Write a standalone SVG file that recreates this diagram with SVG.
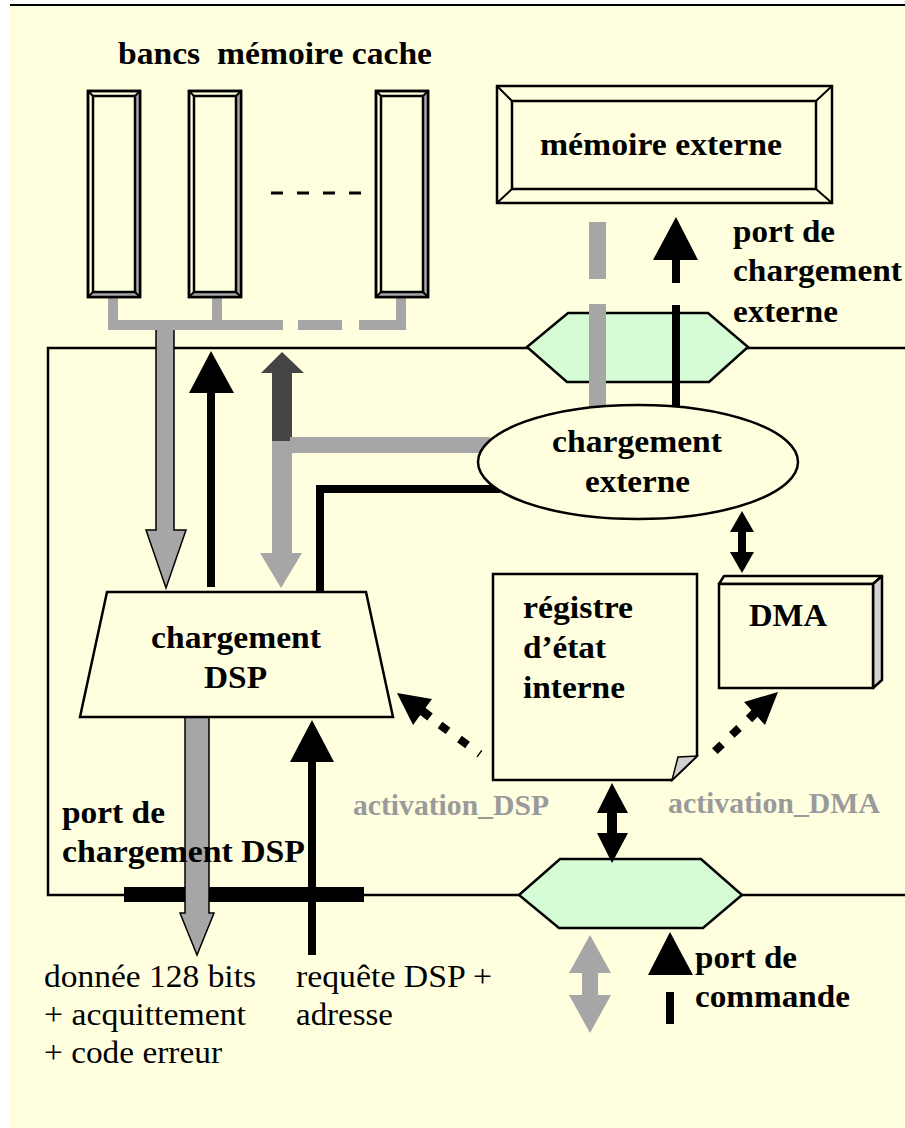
<svg xmlns="http://www.w3.org/2000/svg" xmlns:xlink="http://www.w3.org/1999/xlink" width="905" height="1128" viewBox="0 0 905 1128">
  <style>
    .bold { font-family: "Liberation Serif", "Times New Roman", serif; font-weight: bold; font-size: 32px; fill: #000; }
    .reg { font-family: "Liberation Serif", "Times New Roman", serif; font-size: 32px; fill: #000; }
    .act { font-family: "Liberation Serif", "Times New Roman", serif; font-weight: bold; font-size: 30px; fill: #9a9a9a; }
    .box { fill: #FFFFE0; stroke: #000; stroke-width: 2.5; }
    .port { fill: #D5FCD5; stroke: #000; stroke-width: 2.5; }
    .grey { fill: #A6A6A6; }
    .blk { fill: #000; }
    .dark { fill: #444; }
    .thin { stroke: #000; stroke-width: 2; fill: none; }
  </style>
  <defs>
    <!-- bevelled memory bank, 52 x 206 -->
    <g id="bank">
      <rect x="0" y="0" width="52" height="206" fill="#FFFFE0" stroke="#000" stroke-width="2.5"/>
      <polygon points="47,5 52,0 52,206 47,201" fill="#A6A6A6"/>
      <polygon points="5,201 47,201 52,206 0,206" fill="#A6A6A6"/>
      <rect x="5" y="5" width="42" height="196" fill="none" stroke="#000" stroke-width="2.5"/>
      <rect x="0" y="0" width="52" height="206" fill="none" stroke="#000" stroke-width="2.5"/>
      <path d="M0,0 L5,5 M52,0 L47,5 M0,206 L5,201 M52,206 L47,201" stroke="#000" stroke-width="2"/>
    </g>
  </defs>

  <!-- page -->
  <rect x="0" y="0" width="905" height="1128" fill="#FFFFFF"/>
  <rect x="10" y="5" width="895" height="1123" fill="#FFFFE0"/>
  <line x1="10" y1="5" x2="905" y2="5" stroke="#000" stroke-width="2"/>

  <!-- chip boundary -->
  <g id="chip">
    <path d="M905,348 H48 V895 H905" fill="none" stroke="#000" stroke-width="2.5"/>
  </g>

  <!-- ports on the chip boundary -->
  <g id="port-externe">
    <polygon class="port" points="527,347 568,313 708,313 748,347 709,382 567,382"/>
  </g>
  <g id="port-commande">
    <polygon class="port" points="519,895 560,859 701,859 742,895 703,928 559,928"/>
  </g>

  <!-- DSP load port bar -->
  <g id="port-dsp">
    <rect x="124" y="887" width="240" height="15" fill="#000"/>
  </g>

  <g id="connectors">
    <!-- cache bus -->
    <g class="grey">
      <rect x="108" y="297" width="10" height="33"/>
      <rect x="212" y="297" width="10" height="33"/>
      <rect x="396" y="297" width="10" height="33"/>
      <rect x="108" y="320" width="175" height="10"/>
      <rect x="298" y="320" width="44" height="10"/>
      <rect x="359" y="320" width="47" height="10"/>
    </g>
    <!-- banks dotted continuation -->
    <line x1="271" y1="193" x2="364" y2="193" stroke="#000" stroke-width="3" stroke-dasharray="12 14"/>

    <!-- bus to DSP load (down) -->
    <path d="M156,330 V530 H146 L166,588 L186,530 H174 V330" fill="#A6A6A6" stroke="#000" stroke-width="1.5"/>
    <!-- DSP load to cache (up) -->
    <rect class="blk" x="207" y="392" width="8" height="195"/>
    <polygon class="blk" points="211,351 189,393 234,393"/>
    <!-- two-way link cache / external load -->
    <polygon class="dark" points="282,352 261,373 304,373"/>
    <rect class="dark" x="272" y="372" width="20" height="70"/>
    <rect class="grey" x="272" y="441" width="20" height="113"/>
    <polygon class="grey" points="260,553 302,553 281,588"/>
    <rect class="grey" x="290" y="437" width="200" height="16"/>
    <!-- DSP load to external load -->
    <path d="M320,592 V489 H500" fill="none" stroke="#000" stroke-width="8"/>

    <!-- external memory links -->
    <rect class="grey" x="589" y="222" width="17" height="57"/>
    <rect class="grey" x="589" y="304" width="17" height="106"/>
    <polygon class="blk" points="676,217 653,260 698,260"/>
    <rect class="blk" x="672" y="259" width="8" height="24"/>
    <rect class="blk" x="672" y="305" width="8" height="105"/>

    <!-- external load <-> DMA -->
    <polygon class="blk" points="742,511 730,532 754,532"/>
    <rect class="blk" x="738" y="531" width="8" height="22"/>
    <polygon class="blk" points="730,552 754,552 742,573"/>

    <!-- register <-> command port -->
    <polygon class="blk" points="612,783 597,813 628,813"/>
    <rect class="blk" x="607" y="812" width="10" height="22"/>
    <polygon class="blk" points="597,833 628,833 612,863"/>

    <!-- DSP load output (down) -->
    <path d="M185,716 V913 H180 L197,955 L214,913 H209 V716" fill="#A6A6A6" stroke="#000" stroke-width="1.5"/>
    <!-- DSP request (up) -->
    <rect class="blk" x="308" y="761" width="8" height="194"/>
    <polygon class="blk" points="312,720 290,762 334,762"/>

    <!-- command port outside links -->
    <polygon class="grey" points="590,935 569,973 611,973"/>
    <rect class="grey" x="582" y="972" width="16" height="24"/>
    <polygon class="grey" points="569,995 611,995 590,1033"/>
    <polygon class="blk" points="670,932 648,975 693,975"/>
    <rect class="blk" x="666" y="992" width="8" height="32"/>

    <!-- activation_DSP (dotted) -->
    <polygon class="blk" points="397,693 432,699 413,725"/>
    <line x1="421" y1="710" x2="430" y2="717" stroke="#000" stroke-width="9"/>
    <line x1="440" y1="725" x2="480" y2="754" stroke="#000" stroke-width="8" stroke-dasharray="10 14"/>
    <!-- activation_DMA (dotted) -->
    <polygon class="blk" points="778,692 744,702 765,725"/>
    <line x1="756" y1="712" x2="749" y2="719" stroke="#000" stroke-width="9"/>
    <line x1="739" y1="728" x2="714" y2="752" stroke="#000" stroke-width="8" stroke-dasharray="10 13.5"/>
  </g>

  <!-- cache banks -->
  <g id="bank-1"><use xlink:href="#bank" href="#bank" x="88" y="91"/></g>
  <g id="bank-2"><use xlink:href="#bank" href="#bank" x="189" y="91"/></g>
  <g id="bank-n"><use xlink:href="#bank" href="#bank" x="376" y="91"/></g>
  <g id="banks-label">
    <text class="bold" x="118" y="64" xml:space="preserve" textLength="314" lengthAdjust="spacingAndGlyphs">bancs  mémoire cache</text>
  </g>

  <!-- external memory -->
  <g id="memoire-externe">
    <rect class="box" x="497" y="86" width="335" height="117"/>
    <rect x="512" y="101" width="304" height="88" fill="none" stroke="#000" stroke-width="2.5"/>
    <path d="M497,86 L512,101 M832,86 L816,101 M497,203 L512,189 M832,203 L816,189" stroke="#000" stroke-width="2"/>
    <text class="bold" x="540" y="155" textLength="242" lengthAdjust="spacingAndGlyphs">mémoire externe</text>
  </g>
  <g id="port-externe-label">
    <text class="bold" x="733" y="242" textLength="102" lengthAdjust="spacingAndGlyphs">port de</text>
    <text class="bold" x="733" y="281" textLength="169" lengthAdjust="spacingAndGlyphs">chargement</text>
    <text class="bold" x="733" y="322" textLength="105" lengthAdjust="spacingAndGlyphs">externe</text>
  </g>

  <!-- external load unit -->
  <g id="chargement-externe">
    <ellipse class="box" cx="638" cy="462" rx="160" ry="57" stroke-width="2"/>
    <text class="bold" x="552" y="452" textLength="170" lengthAdjust="spacingAndGlyphs">chargement</text>
    <text class="bold" x="585" y="492" textLength="105" lengthAdjust="spacingAndGlyphs">externe</text>
  </g>

  <!-- DSP load unit -->
  <g id="chargement-dsp">
    <polygon class="box" points="107,592 366,592 393,717 80,717"/>
    <text class="bold" x="151" y="648" textLength="170" lengthAdjust="spacingAndGlyphs">chargement</text>
    <text class="bold" x="204" y="688" textLength="63" lengthAdjust="spacingAndGlyphs">DSP</text>
  </g>

  <!-- internal state register -->
  <g id="registre">
    <path class="box" d="M493,574 H697 V756 L672,780 H493 Z"/>
    <polygon points="672,780 697,756 678,757" fill="#D0D0D0" stroke="#000" stroke-width="1.5"/>
    <text class="bold" x="523" y="618" textLength="110" lengthAdjust="spacingAndGlyphs">régistre</text>
    <text class="bold" x="523" y="658" textLength="83" lengthAdjust="spacingAndGlyphs">d’état</text>
    <text class="bold" x="523" y="698" textLength="102" lengthAdjust="spacingAndGlyphs">interne</text>
  </g>

  <!-- DMA -->
  <g id="dma">
    <polygon points="719,584 724,576 882,576 873,584" fill="#FFFFE0" stroke="#000" stroke-width="2.5" stroke-linejoin="round"/>
    <polygon points="873,584 882,576 882,680 873,688" fill="#D3D3D3" stroke="#000" stroke-width="2.5" stroke-linejoin="round"/>
    <rect class="box" x="719" y="584" width="154" height="104"/>
    <text class="bold" x="749" y="626" textLength="78" lengthAdjust="spacingAndGlyphs">DMA</text>
  </g>

  <!-- signal labels -->
  <g id="labels">
    <text class="act" x="353" y="815" textLength="196" lengthAdjust="spacingAndGlyphs">activation_DSP</text>
    <text class="act" x="668" y="813" textLength="212" lengthAdjust="spacingAndGlyphs">activation_DMA</text>
    <text class="bold" x="62" y="823" textLength="103" lengthAdjust="spacingAndGlyphs">port de</text>
    <text class="bold" x="62" y="862" textLength="243" lengthAdjust="spacingAndGlyphs">chargement DSP</text>
    <text class="reg" x="44" y="987" textLength="212" lengthAdjust="spacingAndGlyphs">donnée 128 bits</text>
    <text class="reg" x="44" y="1025" textLength="202" lengthAdjust="spacingAndGlyphs">+ acquittement</text>
    <text class="reg" x="44" y="1063" textLength="178" lengthAdjust="spacingAndGlyphs">+ code erreur</text>
    <text class="reg" x="296" y="987" textLength="196" lengthAdjust="spacingAndGlyphs">requête DSP +</text>
    <text class="reg" x="296" y="1025" textLength="97" lengthAdjust="spacingAndGlyphs">adresse</text>
    <text class="bold" x="695" y="968" textLength="102" lengthAdjust="spacingAndGlyphs">port de</text>
    <text class="bold" x="695" y="1007" textLength="155" lengthAdjust="spacingAndGlyphs">commande</text>
  </g>
</svg>
